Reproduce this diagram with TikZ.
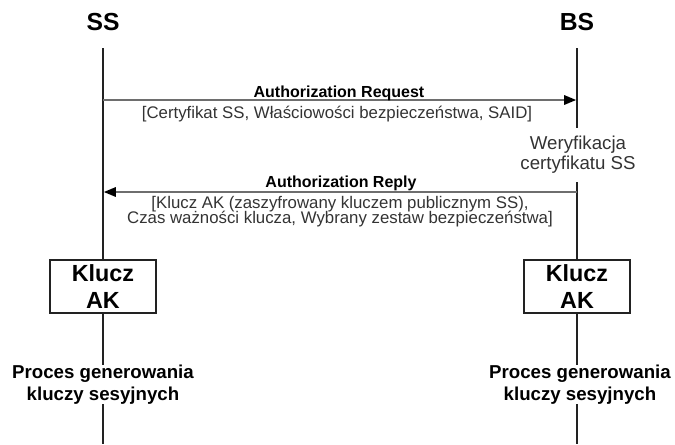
\documentclass[tikz,border=0pt]{standalone}
\usepackage{fontspec}
\setmainfont{Liberation Sans}
\usetikzlibrary{arrows.meta}
\definecolor{lifec}{HTML}{222222}
\definecolor{msgc}{HTML}{6E6E6E}
\definecolor{txtc}{HTML}{333333}
\begin{document}
\begin{tikzpicture}[x=0.75pt,y=-0.75pt,
  life/.style={draw=lifec,line width=1.5pt},
  msg/.style={draw=msgc,line width=1.5pt,-{Triangle[length=9pt,width=7pt,fill=black,color=black]},shorten >=0.6pt},
  title/.style={font=\fontsize{18.5}{20}\selectfont\bfseries,anchor=base,inner sep=0pt},
  lbl/.style={font=\fontsize{12}{14}\selectfont\bfseries,anchor=base,inner sep=0pt},
  sub/.style={font=\fontsize{12.6}{14}\selectfont,text=txtc,anchor=base,inner sep=0pt},
  keybox/.style={draw=lifec,line width=1.5pt,fill=white,minimum width=79.5pt,minimum height=40pt,inner sep=0pt,align=center,font=\fontsize{17.5}{20.5}\selectfont\bfseries},
  proc/.style={inner sep=0pt,align=center,font=\fontsize{14}{16.5}\selectfont\bfseries},
  verif/.style={inner sep=0pt,align=center,minimum height=40.5pt,text=txtc,font=\fontsize{14}{15}\selectfont}]
\useasboundingbox (0,0) rectangle (675,444);
% headers
\node[title] (ssT) at (103,30.7) {SS};
\node[title] (bsT) at (577,30.7) {BS};
% lifeline ends
\coordinate (ssTop) at (103,48);
\coordinate (bsTop) at (577,48);
\coordinate (ssBot) at (103,444);
\coordinate (bsBot) at (577,444);
\coordinate (ssReq) at (103,100);
\coordinate (bsReq) at (577,100);
\coordinate (ssRep) at (103,192);
\coordinate (bsRep) at (577,192);
% boxes and texts
\node[keybox] (ssKey) at (103,286.7) {Klucz\\AK};
\node[keybox] (bsKey) at (577,286.7) {Klucz\\AK};
\node[proc,minimum height=37pt*0.75] (ssProc) at (103,384.5) {Proces generowania\\kluczy sesyjnych};
\node[proc,minimum height=37pt*0.75] (bsProc) at (580,384.5) {Proces generowania\\kluczy sesyjnych};
\node[verif] (bsVer) at (578,155) {Weryfikacja\\certyfikatu SS};
% lifelines
\draw[life] (ssTop) -- (ssKey.north);
\draw[life] (ssKey.south) -- (ssProc.north -| ssKey.south);
\draw[life] (ssProc.south -| ssKey.south) -- (ssBot);
\draw[life] (bsTop) -- (bsVer.north -| bsTop);
\draw[life] (bsVer.south -| bsTop) -- (bsKey.north);
\draw[life] (bsKey.south) -- (bsProc.north -| bsKey.south);
\draw[life] (bsProc.south -| bsKey.south) -- (bsBot);
% messages
\draw[msg] (ssReq) -- (bsReq);
\draw[msg] (bsRep) -- (ssRep);
\node[lbl] (reqL) at (339,97) {Authorization Request};
\node[sub] (reqS) at (337,118) {[Certyfikat SS, Właściowości bezpieczeństwa, SAID]};
\node[lbl] (repL) at (341,187) {Authorization Reply};
\node[sub] (repS1) at (340,208) {[Klucz AK (zaszyfrowany kluczem publicznym SS),};
\node[sub] (repS2) at (340,223) {Czas ważności klucza, Wybrany zestaw bezpieczeństwa]};
\end{tikzpicture}
\end{document}
